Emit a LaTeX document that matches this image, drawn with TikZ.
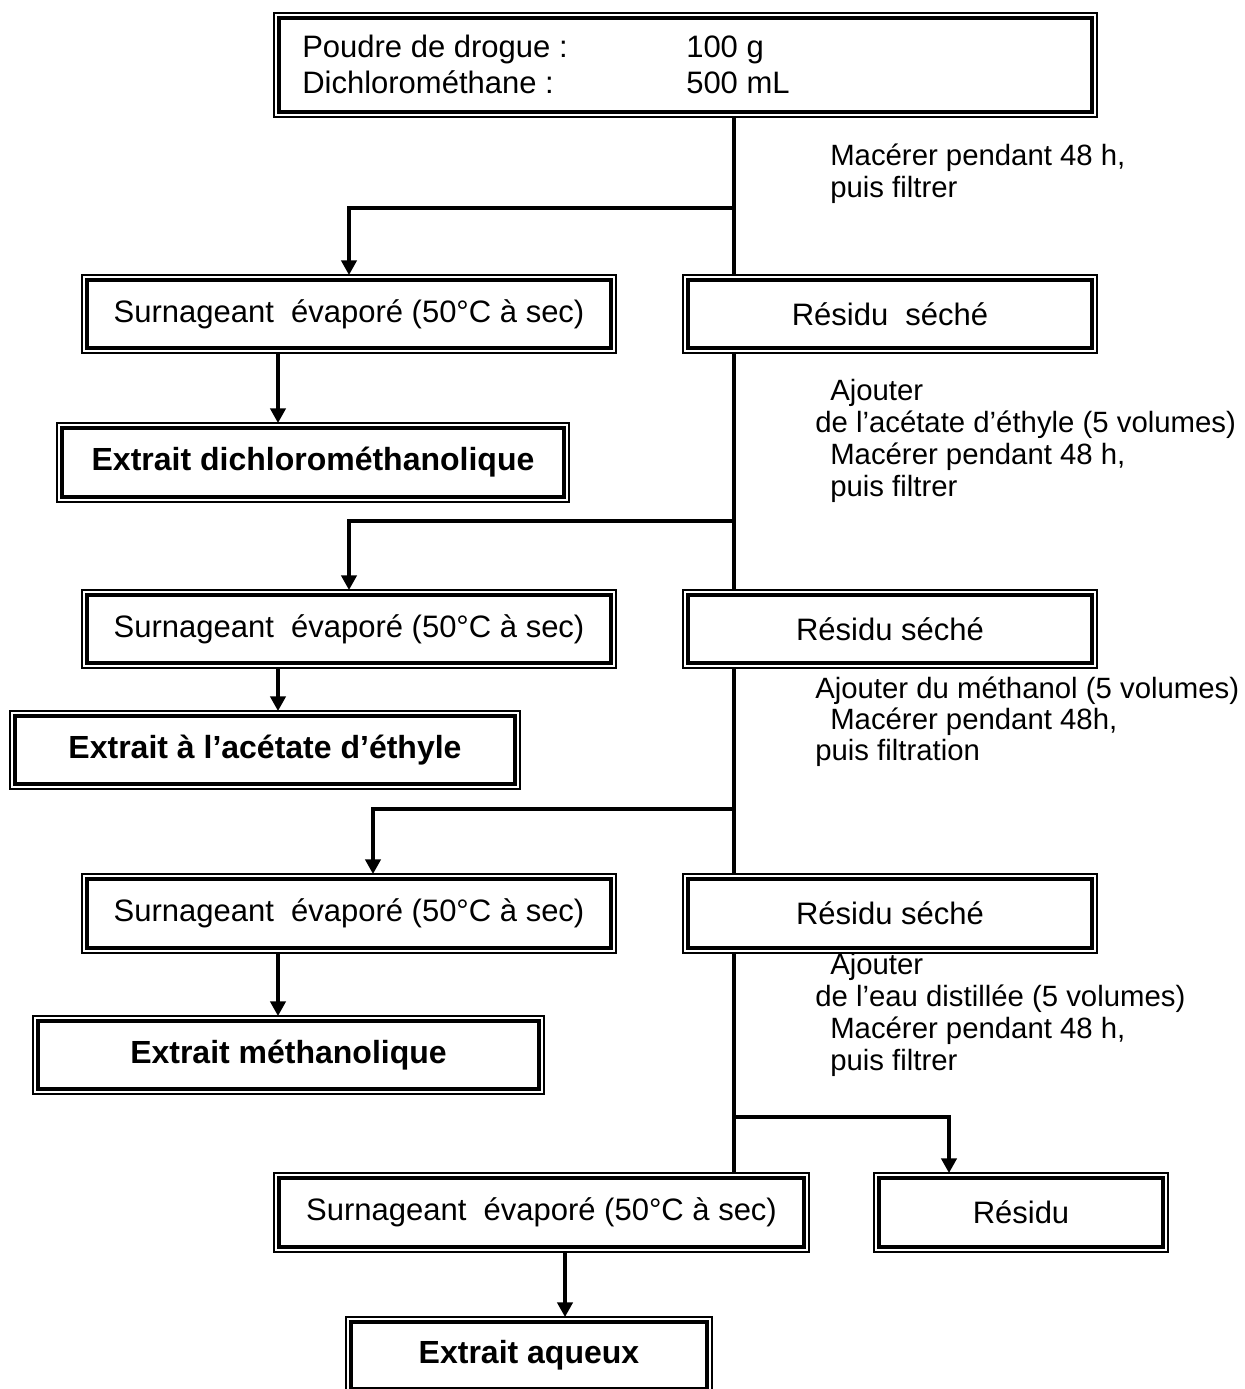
\documentclass[tikz,border=0pt]{standalone}
\usepackage{fontspec}
\setmainfont{Liberation Sans}
\usetikzlibrary{arrows.meta,calc}
\newcommand\dbox[7][]{%
  \node[outerbox,#1,minimum width={(#5-#3)*0.75pt},minimum height={(#6-#4)*0.75pt}] (#2) at ({(#3+#5)/2},{(#4+#6)/2}) {#7};
  \draw[innerline] ($(#2.south west)+(5,-5)$) rectangle ($(#2.north east)+(-5,5)$);}
\begin{document}
\begin{tikzpicture}[x=0.75pt,y=-0.75pt,
  outerbox/.style={draw,rectangle,line width=1.5pt,inner sep=0pt,outer sep=0pt,font=\fontsize{23.25}{28}\selectfont},
  boldbox/.style={font=\fontsize{24}{28}\selectfont\bfseries},
  innerline/.style={line width=2.4pt},
  conn/.style={line width=2.4pt},
  arr/.style={conn,-{Triangle[width=11.5pt,length=11pt]}},
  boxtext/.style={anchor=base west,inner sep=0pt,font=\fontsize{23.25}{28}\selectfont},
  steptext/.style={anchor=base west,inner sep=0pt,font=\fontsize{22}{26}\selectfont}]
\useasboundingbox (0,0) rectangle (1245,1389);
\clip (0,0) rectangle (1245,1389);

% boxes
\dbox{top}{274}{13}{1097}{117}{}
\node[boxtext] (p1) at (302,57) {Poudre de drogue :};
\node[boxtext] (p2) at (686,57) {100 g};
\node[boxtext] (d1) at (302,93) {Dichlorométhane :};
\node[boxtext] (d2) at (686,93) {500 mL};

\dbox{s1}{82}{275}{616}{353}{Surnageant\ \ évaporé (50°C à sec)}
\dbox{r1}{683}{275}{1097}{353}{Résidu\ \ séché}
\dbox[boldbox]{e1}{57}{423}{569}{502}{Extrait dichlorométhanolique}

\dbox{s2}{82}{590}{616}{668}{Surnageant\ \ évaporé (50°C à sec)}
\dbox{r2}{683}{590}{1097}{668}{Résidu séché}
\dbox[boldbox]{e2}{10}{711}{520}{789}{Extrait à l’acétate d’éthyle}

\dbox{s3}{82}{874}{616}{953}{Surnageant\ \ évaporé (50°C à sec)}
\dbox{r3}{683}{874}{1097}{953}{Résidu séché}
\dbox[boldbox]{e3}{33}{1016}{544}{1094}{Extrait méthanolique}

\dbox{s4}{274}{1173}{809}{1252}{Surnageant\ \ évaporé (50°C à sec)}
\dbox{res}{874}{1173}{1168}{1252}{Résidu}
\dbox[boldbox]{e4}{346}{1317}{712}{1394}{Extrait aqueux}

% step texts
\node[steptext] (m1a) at (830,165) {Macérer pendant 48 h,};
\node[steptext] (m1b) at (830,197) {puis filtrer};

\node[steptext] (m2a) at (830,400) {Ajouter};
\node[steptext] (m2b) at (815,432) {de l’acétate d’éthyle (5 volumes)};
\node[steptext] (m2c) at (830,464) {Macérer pendant 48 h,};
\node[steptext] (m2d) at (830,496) {puis filtrer};

\node[steptext] (m3a) at (815,698) {Ajouter du méthanol (5 volumes)};
\node[steptext] (m3b) at (830,729) {Macérer pendant 48h,};
\node[steptext] (m3c) at (815,760) {puis filtration};

\node[steptext] (m4a) at (830,974) {Ajouter};
\node[steptext] (m4b) at (815,1006) {de l’eau distillée (5 volumes)};
\node[steptext] (m4c) at (830,1038) {Macérer pendant 48 h,};
\node[steptext] (m4d) at (830,1070) {puis filtrer};

% connector coordinates
\coordinate (j1) at (734,208);
\coordinate (j2) at (734,521);
\coordinate (j3) at (734,809);
\coordinate (j4) at (734,1117);
\coordinate (xa) at (278,0);
\coordinate (xc) at (373,0);
\coordinate (xd) at (949,0);
\coordinate (xe) at (565,0);

% connectors
\draw[conn] (top.south -| j1) -- (r1.north -| j1);
\draw[arr] (j1) -| (s1.north);
\draw[arr] (s1.south -| xa) -- (e1.north -| xa);

\draw[conn] (r1.south -| j2) -- (r2.north -| j2);
\draw[arr] (j2) -| (s2.north);
\draw[arr] (s2.south -| xa) -- (e2.north -| xa);

\draw[conn] (r2.south -| j3) -- (r3.north -| j3);
\draw[arr] (j3) -| (s3.north -| xc);
\draw[arr] (s3.south -| xa) -- (e3.north -| xa);

\draw[conn] (r3.south -| j4) -- (s4.north -| j4);
\draw[arr] (j4) -| (res.north -| xd);
\draw[arr] (s4.south -| xe) -- (e4.north -| xe);
\end{tikzpicture}
\end{document}
